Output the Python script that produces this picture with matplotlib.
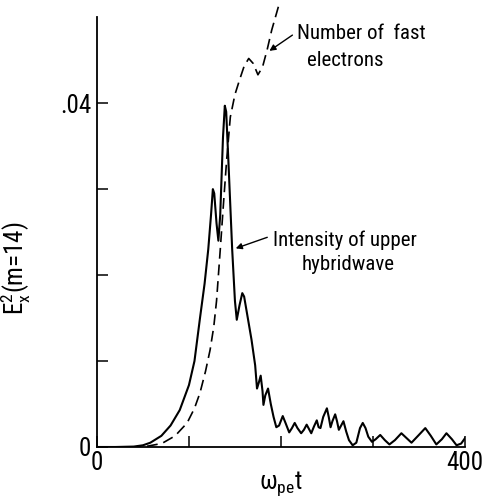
import matplotlib
matplotlib.use("Agg")
import matplotlib.pyplot as plt

# values
t_solid = [0, 20, 40, 50, 58, 70, 80, 90, 100, 106, 112, 117, 121, 124, 126, 127.5,
           130, 132, 134, 137, 139, 140.5, 143, 147, 150, 152, 155, 158, 160, 164,
           168, 172, 174, 176, 178, 180, 181, 183, 186, 189, 192, 195, 198, 202,
           205, 209, 212, 215, 218, 222, 225, 228, 231, 233, 236, 239, 241, 243,
           246, 250, 252, 254, 256, 259, 261, 263, 266, 268, 271, 274, 278, 282,
           286, 289, 292, 295, 299, 303, 308, 313, 318, 324, 331, 337, 342, 350,
           357, 363, 369, 375, 380, 386, 391, 396, 400]
e_solid = [0, 0, 0.00005, 0.0002, 0.0005, 0.0013, 0.0025, 0.0043, 0.0072, 0.0100,
           0.0150, 0.0190, 0.0230, 0.0270, 0.0300, 0.0295, 0.0260, 0.0240, 0.0270,
           0.0360, 0.0397, 0.0390, 0.0330, 0.0230, 0.0170, 0.0148, 0.0165, 0.0179,
           0.0175, 0.0150, 0.0125, 0.0095, 0.0068, 0.0075, 0.0083, 0.0065, 0.0049,
           0.0060, 0.0068, 0.0050, 0.0035, 0.0023, 0.0025, 0.0036, 0.0028, 0.0017,
           0.0022, 0.0028, 0.0022, 0.0016, 0.0020, 0.0026, 0.0020, 0.0016, 0.0024,
           0.0031, 0.0023, 0.0022, 0.0035, 0.0045, 0.0035, 0.0023, 0.0030, 0.0038,
           0.0030, 0.0020, 0.0026, 0.0030, 0.0018, 0.0008, 0.0002, 0.0005, 0.0022,
           0.0028, 0.0022, 0.0012, 0.0006, 0.0009, 0.0014, 0.0008, 0.0003, 0.0008,
           0.0016, 0.0010, 0.0005, 0.0014, 0.0022, 0.0013, 0.0003, 0.0009, 0.0016,
           0.0009, 0.0002, 0.0004, 0.0010]

t_fast = [0, 40, 55, 65, 72, 85, 98, 106, 112, 118, 123, 127, 130, 134, 138, 141,
          145, 150, 155, 160, 165, 170, 175, 180, 185, 190, 198]
n_fast = [0, 0, 0.0001, 0.0003, 0.0005, 0.0013, 0.0028, 0.0045, 0.0063, 0.0088,
          0.0113, 0.0140, 0.0170, 0.0229, 0.0290, 0.0334, 0.0384, 0.0410, 0.0427,
          0.0443, 0.0452, 0.0446, 0.0433, 0.0442, 0.0462, 0.0485, 0.0515]

xticks = [0, 100, 200, 300, 400]
xticklabels = ["0", "", "", "", "400"]
yticks = [0, 0.01, 0.02, 0.03, 0.04]
yticklabels = ["0", "", "", "", ".04"]

plt.rcParams['font.family'] = ['Roboto Condensed', 'DejaVu Sans']
plt.rcParams['mathtext.fontset'] = 'custom'
plt.rcParams['mathtext.rm'] = 'Roboto Condensed'
plt.rcParams['mathtext.it'] = 'Roboto Condensed'

fig = plt.figure(figsize=(4.84, 5), dpi=100)
ax = fig.add_axes([0.2004, 0.106, 0.760, 0.894])

ax.plot(t_solid, e_solid, color="black", lw=1.5)
ax.plot(t_fast, n_fast, color="black", lw=1.2, ls=(0, (6.5, 3.5)))

ax.set_xlim(0, 400)
ax.set_ylim(0, 0.052)
ax.spines['top'].set_visible(False)
ax.spines['right'].set_visible(False)
ax.spines['left'].set_bounds(0, 0.05)
ax.spines['left'].set_linewidth(1.3)
ax.spines['bottom'].set_linewidth(1.3)

ax.set_xticks(xticks)
ax.set_xticklabels(xticklabels)
ax.set_yticks(yticks)
ax.set_yticklabels(yticklabels)
ax.tick_params(direction="in", length=8, width=1.1, labelsize=18)
ax.tick_params(axis="x", pad=3)
ax.tick_params(axis="y", pad=4)

ax.set_xlabel(r"$\omega_{\mathrm{pe}}\mathrm{t}$", fontsize=18, labelpad=-4)
ax.set_ylabel(r"E$_{\mathrm{x}}^{2}$(m=14)", fontsize=18)
ax.yaxis.set_label_coords(-0.175, 0.40)

ax.text(217, 0.0481, "Number of  fast", fontsize=15, va="center", ha="left")
ax.text(228, 0.0450, "electrons", fontsize=15, va="center", ha="left")
ax.annotate("", xy=(185, 0.0459), xytext=(215, 0.0481),
            arrowprops=dict(arrowstyle="-|>", color="black", lw=1, mutation_scale=9))

ax.text(191, 0.0241, "Intensity of upper", fontsize=15, va="center", ha="left")
ax.text(223, 0.0212, "hybridwave", fontsize=15, va="center", ha="left")
ax.annotate("", xy=(148, 0.0230), xytext=(188, 0.0245),
            arrowprops=dict(arrowstyle="-|>", color="black", lw=1, mutation_scale=9))

fig.savefig("out.png", dpi=100)
